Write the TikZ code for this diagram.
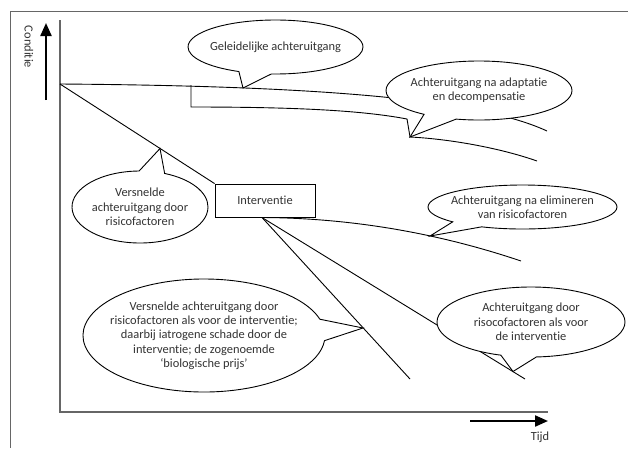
\documentclass[tikz,border=0pt]{standalone}
\usepackage{fontspec}
\setmainfont{Carlito}[Ligatures={TeX,NoCommon}]
\usetikzlibrary{shapes.callouts,arrows.meta}
\begin{document}
\begin{tikzpicture}[x=1pt,y=-1pt,
	font=\fontsize{12.4}{14.3}\selectfont,
	every node/.style={text=black!80},
	bubble/.style={ellipse callout, draw=black, fill=white, line width=0.9pt, align=center, inner xsep=-40pt, inner ysep=0pt, callout pointer arc=22},
	trend/.style={line width=0.9pt},
	axisline/.style={draw=black!60, line width=1.4pt},
	outerframe/.style={draw=black!60, line width=1pt},
	bigarrow/.style={line width=2.2pt, -{Triangle[length=13pt,width=11pt]}}]
	\useasboundingbox (0,0) rectangle (628,448);
	% frame and axes
	\draw[outerframe] (628,11) -- (10,11) -- (10,448);
	\draw[axisline] (60,20) -- (60,412) -- (548,412);
	\draw[bigarrow] (46,100) -- (46,23);
	\node[rotate=-90] (cond) at (29,47) {Conditie};
	\draw[bigarrow] (470,421) -- (548,421);
	\node (tijd) at (540,437) {Tijd};
	% points on the lines
	\coordinate (start) at (60,84);
	\coordinate (topend) at (547,131);
	\coordinate (geltip) at (243,88);
	\coordinate (decomp) at (410,137);
	\coordinate (decompend) at (537,161);
	\coordinate (versntip) at (160,148.5);
	\coordinate (ivb) at (262,217.5);
	\coordinate (elimtip) at (430,236);
	\coordinate (elimend) at (521,261);
	\coordinate (risktip) at (513,371.5);
	\coordinate (riskend) at (525,379);
	\coordinate (iatrotip) at (363,328);
	\coordinate (iatroend) at (410,379);
	% Interventie
	\node[draw=black, line width=0.9pt, minimum width=100, minimum height=33] (interv) at (265,200.5) {Interventie};
	% lines first
	\draw[trend] (start) .. controls (330,86) and (480,100) .. (topend);
	\draw[trend] (191,85) -- (191,107) .. controls (290,107) and (360,110) .. (407,119) -- (decomp);
	\draw[trend] (decomp) .. controls (450,139) and (500,148) .. (decompend);
	\draw[trend] (start) -- (interv.north west);
	\draw[trend] (ivb) .. controls (348,218) and (435,232) .. (elimend);
	\draw[trend] (ivb) -- (riskend);
	\draw[trend] (ivb) -- (iatroend);
	% callouts on top
	\node[bubble, minimum width=175, minimum height=54, callout absolute pointer={(geltip)}] (gel) at (275.5,47) {Geleidelijke achteruitgang};
	\node[bubble, minimum width=186, minimum height=59, callout absolute pointer={(decomp)}] (adapt) at (479,90.5) {Achteruitgang na adaptatie\\en decompensatie};
	\node[bubble, minimum width=136, minimum height=72, callout absolute pointer={(versntip)}] (versn) at (140,207) {Versnelde\\achteruitgang door\\risicofactoren};
	\node[bubble, minimum width=189, minimum height=44, callout absolute pointer={(elimtip)}] (elim) at (522.5,207) {Achteruitgang na elimineren\\van risicofactoren};
	\node[bubble, minimum width=242, minimum height=113, callout absolute pointer={(iatrotip)}] (iatro) at (204,335.5) {Versnelde achteruitgang door\\risicofactoren als voor de interventie;\\daarbij iatrogene schade door de\\interventie; de zogenoemde\\‘biologische prijs’};
	\node[bubble, minimum width=188, minimum height=70, callout absolute pointer={(risktip)}] (risk) at (531,322) {Achteruitgang door\\risocofactoren als voor\\de interventie};
\end{tikzpicture}
\end{document}
